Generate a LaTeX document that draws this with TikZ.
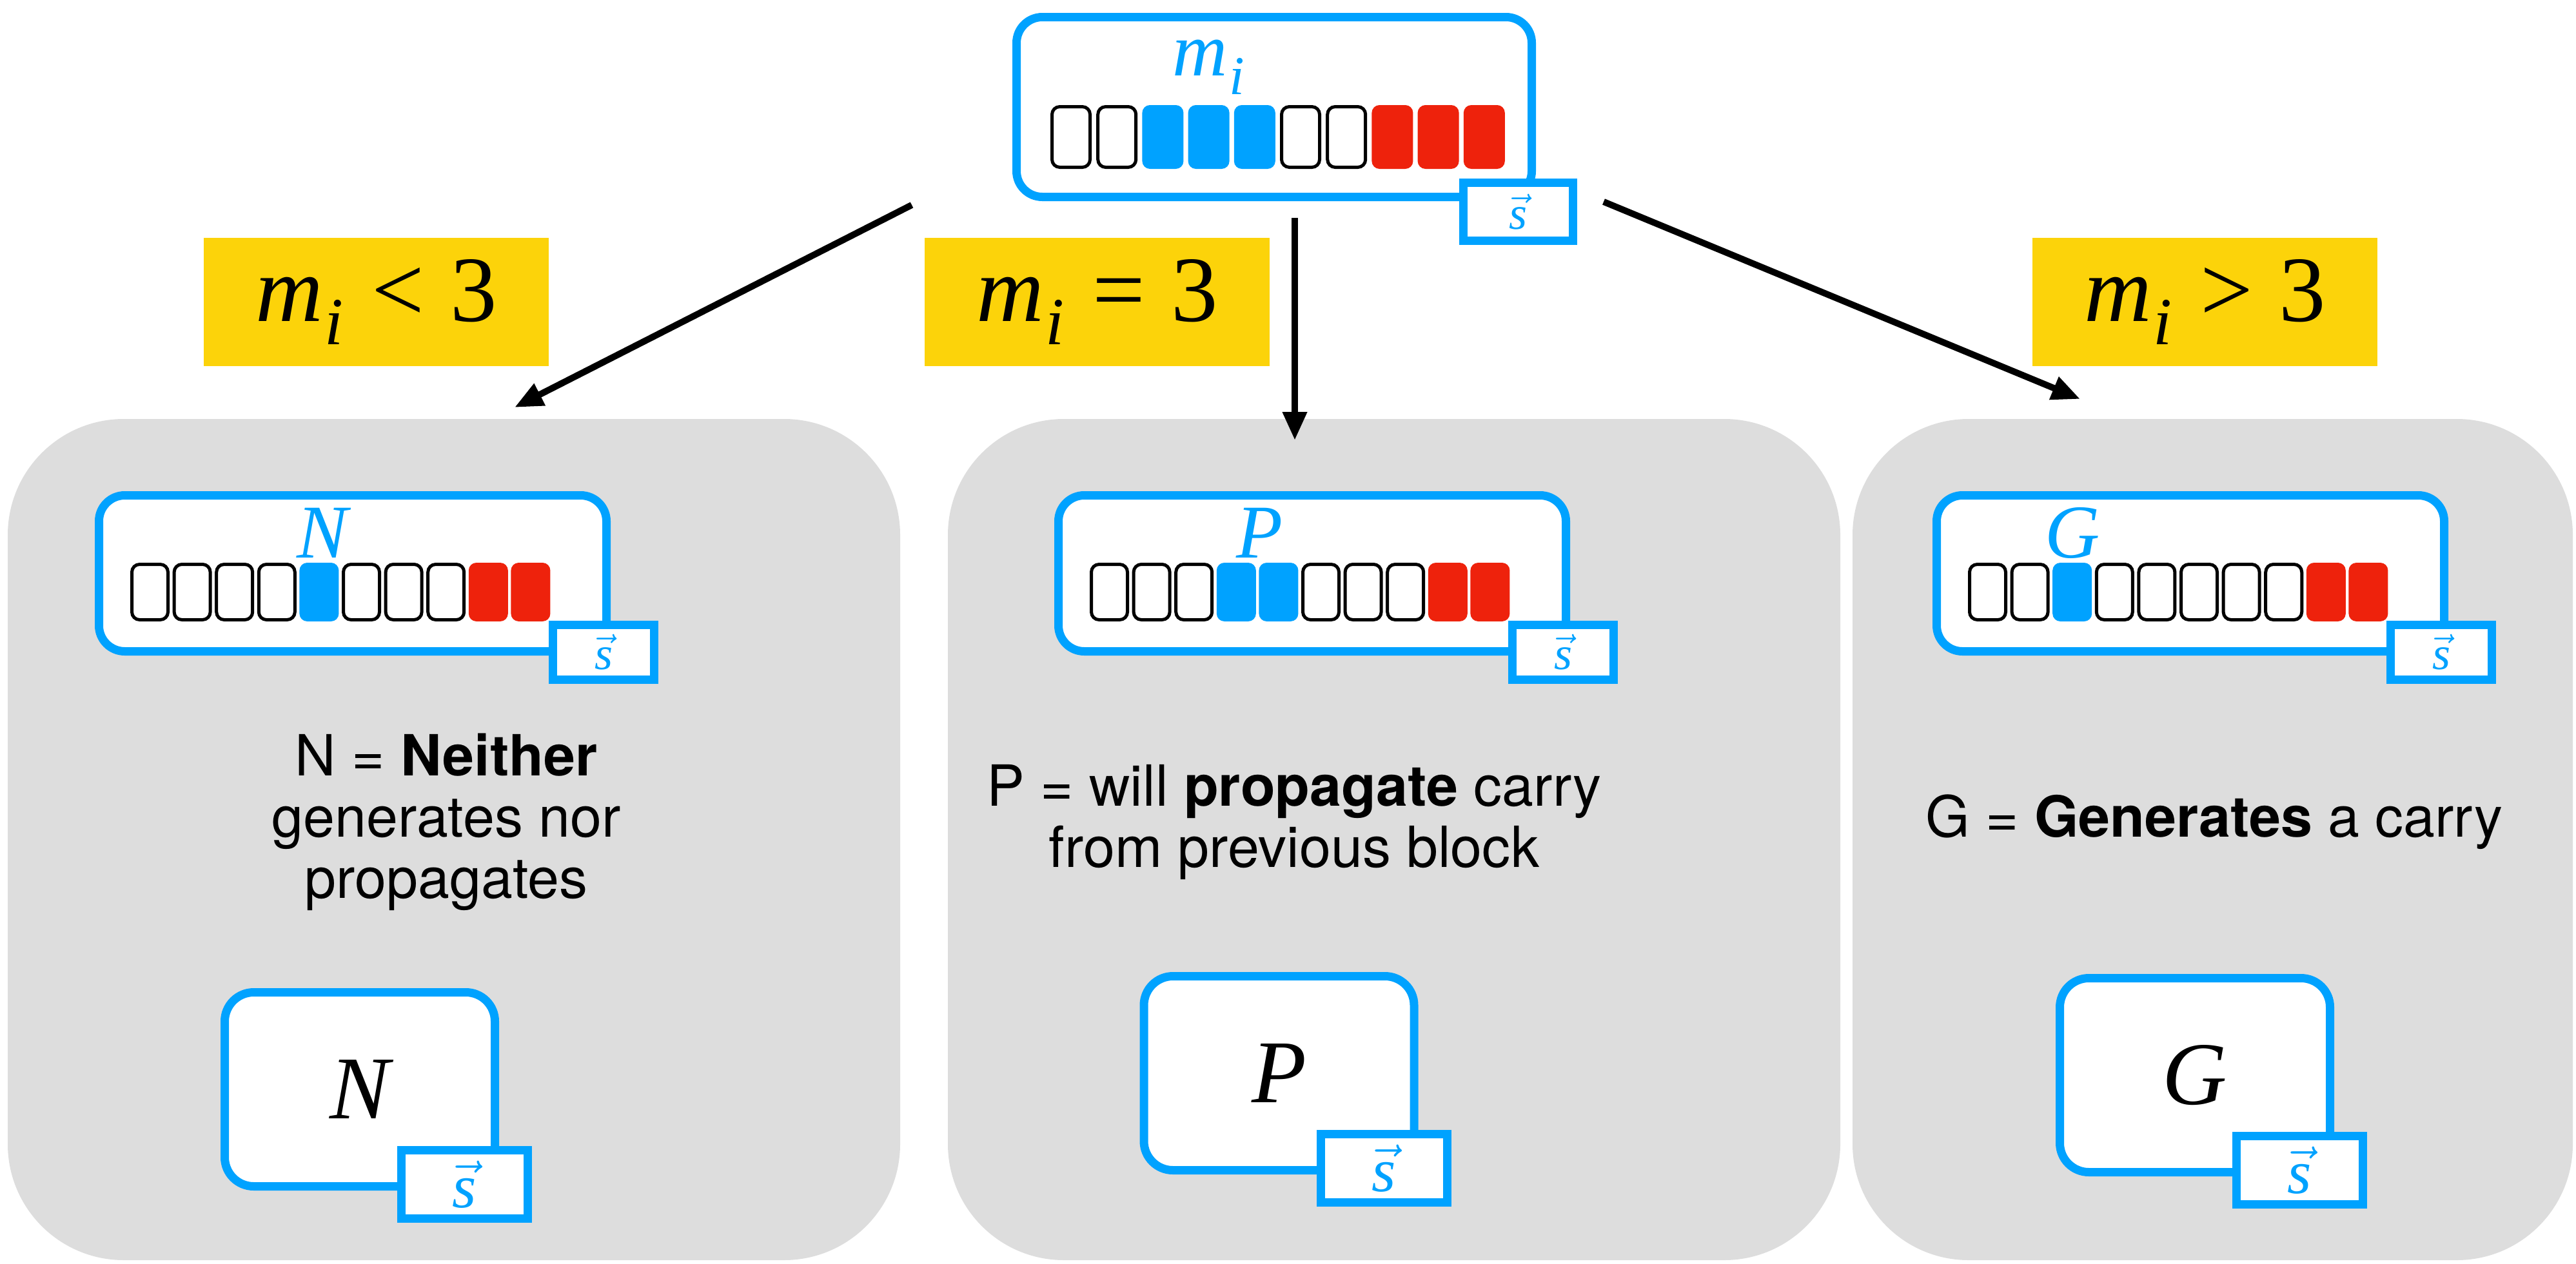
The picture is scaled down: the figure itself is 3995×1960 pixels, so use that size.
\RequirePackage{fix-cm}
\documentclass[tikz,border=0pt]{standalone}
\usepackage{fontspec}
\usepackage{amsmath}
\usepackage{graphicx}
\usetikzlibrary{arrows.meta}
\newfontfamily\tms{Liberation Serif}
\newfontfamily\helv{TeX Gyre Heros}
\definecolor{skyblue}{HTML}{00A2FF}
\definecolor{bitred}{HTML}{EE220C}
\definecolor{condyellow}{HTML}{FCD30A}
\definecolor{panelgrey}{HTML}{DDDDDD}
% italic m with a low, fairly large subscript i
\newcommand\mvar{{\itshape m}\kern0.02em\raisebox{-0.25em}{\scalebox{0.72}{\itshape i}}}
\newcommand\svec{\ensuremath{\vec{\text{\itshape s}}}}
% one row of ten bit cells: prefix, left x, centre y, pitch, width, height, kinds
\newcommand\cellrow[7]{%
  \foreach \ctype [count=\k] in {#7}{%
    \pgfmathsetmacro\cx{#2+(\k-1)*#4+#5/2}%
    \edef\mkcell{\noexpand\node[cell\ctype={#5}{#6}] (#1-\k) at (\cx,#3) {};}%
    \mkcell
  }%
}
\begin{document}
\begin{tikzpicture}[x=1pt,y=-1pt,
  panel/.style={fill=panelgrey, rounded corners=180pt, inner sep=0pt, outer sep=0pt},
  bluebox/.style={draw=skyblue, line width=13pt, fill=white, rounded corners=40pt, inner sep=0pt, outer sep=0pt},
  bigbox/.style={bluebox, rounded corners=45pt, minimum width=419pt, minimum height=301pt,
    font=\tms\itshape\fontsize{139pt}{139pt}\selectfont},
  sbox/.style={draw=skyblue, line width=13pt, fill=white, inner sep=0pt, outer sep=0pt, text=skyblue,
    font=\tms\fontsize{72pt}{72pt}\selectfont},
  bigsbox/.style={sbox, minimum width=196pt, minimum height=106pt, font=\tms\fontsize{96pt}{96pt}\selectfont},
  cello/.style 2 args={draw=black, line width=5pt, fill=white, rounded corners=12pt, inner sep=0pt,
    minimum width={(#1-5)*1pt}, minimum height={(#2-5)*1pt}},
  cellb/.style 2 args={fill=skyblue, rounded corners=12pt, inner sep=0pt,
    minimum width={#1*1pt}, minimum height={#2*1pt}},
  cellr/.style 2 args={fill=bitred, rounded corners=12pt, inner sep=0pt,
    minimum width={#1*1pt}, minimum height={#2*1pt}},
  cond/.style={fill=condyellow, inner sep=0pt, minimum width=535pt, minimum height=199pt,
    font=\tms\fontsize{145pt}{145pt}\selectfont},
  tag/.style={text=skyblue, anchor=base, inner sep=0pt, font=\tms\fontsize{118pt}{118pt}\selectfont},
  desc/.style={anchor=base, inner sep=0pt, font=\helv\fontsize{88pt}{95pt}\selectfont},
  flow/.style={line width=10pt, -{Triangle[length=44pt,width=36pt]}}
]
\useasboundingbox (0,0) rectangle (3995,1960);

% grey case panels
\node[panel, minimum width=1384pt, minimum height=1305pt] (panelN) at (704,1302.5) {};
\node[panel, minimum width=1384pt, minimum height=1305pt] (panelP) at (2162,1302.5) {};
\node[panel, minimum width=1117pt, minimum height=1305pt] (panelG) at (3431.5,1302.5) {};

% input block m_i
\node[bluebox, minimum width=799pt, minimum height=279pt] (top) at (1976,166) {};
\cellrow{tc}{1629}{212.5}{71.2}{64}{99}{o,o,b,b,b,o,o,r,r,r}
\node[tag] (toplabel) at (1874,117) {\mvar};
\node[sbox, minimum width=170pt, minimum height=90pt] (tops) at (2354.5,328.5) {\svec};

% branch arrows
\coordinate (aNs) at (1414,318);
\coordinate (aNe) at (798,632);
\coordinate (aPs) at (2008,338);
\coordinate (aPe) at (2008,683);
\coordinate (aGs) at (2487,313);
\coordinate (aGe) at (3226,619);
\draw[flow] (aNs) -- (aNe);
\draw[flow] (aPs) -- (aPe);
\draw[flow] (aGs) -- (aGe);

% branch conditions
\node[cond] (condN) at (583.5,468.5) {\mvar\hspace{0.3em}<\hspace{0.28em}3};
\node[cond] (condP) at (1701.5,468.5) {\mvar\hspace{0.3em}=\hspace{0.28em}3};
\node[cond] (condG) at (3419.5,468.5) {\mvar\hspace{0.3em}>\hspace{0.28em}3};

% case N
\node[bluebox, minimum width=787pt, minimum height=242pt] (boxN) at (547,889.5) {};
\cellrow{nc}{202}{918.5}{65.6}{61}{91}{o,o,o,o,b,o,o,o,r,r}
\node[tag] (labN) at (500,865) {\itshape N};
\node[sbox, minimum width=157pt, minimum height=85pt] (sN) at (936,1012) {\svec};
\node[desc] (txtN1) at (692,1203) {N = \textbf{Neither}};
\node[desc] (txtN2) at (692,1298) {generates nor};
\node[desc] (txtN3) at (692,1393) {propagates};
\node[bigbox] (resN) at (558,1690) {N};
\node[bigsbox] (resNs) at (720.5,1837.5) {\svec};

% case P
\node[bluebox, minimum width=787pt, minimum height=242pt] (boxP) at (2035,889.5) {};
\cellrow{pc}{1690}{918.5}{65.6}{61}{91}{o,o,o,b,b,o,o,o,r,r}
\node[tag] (labP) at (1954,865) {\itshape P};
\node[sbox, minimum width=157pt, minimum height=85pt] (sP) at (2424,1012) {\svec};
\node[desc] (txtP1) at (2007,1250) {P = will \textbf{propagate} carry};
\node[desc] (txtP2) at (2007,1345) {from previous block};
\node[bigbox] (resP) at (1983.5,1665) {P};
\node[bigsbox] (resPs) at (2146.5,1812.5) {\svec};

% case G
\node[bluebox, minimum width=787pt, minimum height=242pt] (boxG) at (3397,889.5) {};
\cellrow{gc}{3052}{918.5}{65.6}{61}{91}{o,o,b,o,o,o,o,o,r,r}
\node[tag] (labG) at (3214,865) {\itshape G};
\node[sbox, minimum width=157pt, minimum height=85pt] (sG) at (3786,1012) {\svec};
\node[desc] (txtG1) at (3434,1298) {G = \textbf{Generates} a carry};
\node[bigbox] (resG) at (3404,1668) {G};
\node[bigsbox] (resGs) at (3566.5,1815.5) {\svec};
\end{tikzpicture}
\end{document}
